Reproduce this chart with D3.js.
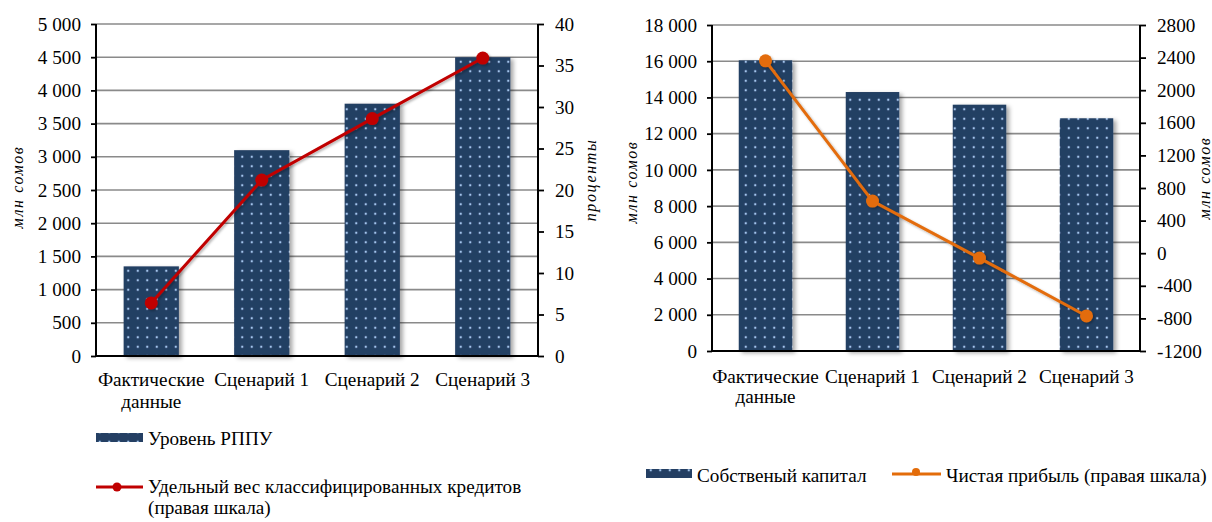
<!DOCTYPE html>
<html><head><meta charset="utf-8">
<script src="https://cdn.jsdelivr.net/npm/d3@7"></script>
<style>
html,body{margin:0;padding:0;background:#fff;}
svg text{font-family:"Liberation Serif","Times New Roman",serif;fill:#000;}
</style></head>
<body>
<svg id="c" width="1212" height="522"></svg>
<script>
// ---- data ----
const categories = ["Фактические данные", "Сценарий 1", "Сценарий 2", "Сценарий 3"];
const rppuLevel = [1350, 3100, 3800, 4500];              // млн сомов (left chart, bars)
const classifiedShare = [6.4, 21.2, 28.6, 35.9];         // % (left chart, line)
const equityCapital = [16050, 14300, 13600, 12850];      // млн сомов (right chart, bars)
const netProfit = [2360, 640, -60, -770];                // млн сомов (right chart, line)
const leftTicksL = [0, 500, 1000, 1500, 2000, 2500, 3000, 3500, 4000, 4500, 5000];
const leftTicksR = [0, 5, 10, 15, 20, 25, 30, 35, 40];
const rightTicksL = [0, 2000, 4000, 6000, 8000, 10000, 12000, 14000, 16000, 18000];
const rightTicksR = [-1200, -800, -400, 0, 400, 800, 1200, 1600, 2000, 2400, 2800];
const leftLegend = ["Уровень РППУ", "Удельный вес классифицированных кредитов", "(правая шкала)"];
const rightLegend = ["Собственый капитал", "Чистая прибыль (правая шкала)"];

const FS = 19.2;
const svg = d3.select("#c");
const defs = svg.append("defs");
const pat = defs.append("pattern").attr("id","dots").attr("patternUnits","userSpaceOnUse")
  .attr("width",9.5).attr("height",9.5);
pat.append("rect").attr("width",9.5).attr("height",9.5).attr("fill","#243f63");
pat.append("circle").attr("cx",4.75).attr("cy",4.75).attr("r",1.2).attr("fill","#a4c6ee");
const sh = defs.append("filter").attr("id","shadow").attr("x","-20%").attr("y","-20%").attr("width","150%").attr("height","150%");
sh.append("feDropShadow").attr("dx",3).attr("dy",2).attr("stdDeviation",2).attr("flood-color","#000").attr("flood-opacity",0.35);
const sh2 = defs.append("filter").attr("id","lshadow").attr("x","-20%").attr("y","-20%").attr("width","150%").attr("height","150%");
sh2.append("feDropShadow").attr("dx",1.5).attr("dy",1.5).attr("stdDeviation",1.2).attr("flood-color","#000").attr("flood-opacity",0.3);

const thinSp = d => d3.format(",")(d).replace(/,/g, " ");

function chart(o) {
  const g = svg.append("g");
  const x = d3.scaleBand().domain(categories).range([o.x0, o.x1]).paddingInner(0.5).paddingOuter(0.25);
  const yL = d3.scaleLinear().domain(o.domL).range([o.y0, o.y1]);
  const yR = d3.scaleLinear().domain(o.domR).range([o.y0, o.y1]);

  // gridlines
  g.append("g").selectAll("line").data(o.ticksL.filter(d => d !== o.domL[0])).join("line")
    .attr("x1", o.x0).attr("x2", o.x1).attr("y1", d => yL(d)).attr("y2", d => yL(d))
    .attr("stroke", "#8a8a8a").attr("stroke-width", 1.6);

  // bars
  g.append("g").selectAll("rect").data(o.bars).join("rect")
    .attr("x", (d, i) => x(categories[i])).attr("width", x.bandwidth())
    .attr("y", d => yL(d)).attr("height", d => yL(o.domL[0]) - yL(d))
    .attr("fill", "url(#dots)").attr("filter", "url(#shadow)");

  // axes
  const axL = g.append("g").attr("transform", `translate(${o.x0},0)`)
    .call(d3.axisLeft(yL).tickValues(o.ticksL).tickSize(5).tickPadding(10).tickFormat(o.fmtL));
  const axR = g.append("g").attr("transform", `translate(${o.x1},0)`)
    .call(d3.axisRight(yR).tickValues(o.ticksR).tickSize(6).tickPadding(11).tickFormat(o.fmtR));
  [axL, axR].forEach(a => {
    a.select(".domain").remove();
    a.selectAll(".tick line").attr("stroke", "#000").attr("stroke-width", 1.8);
    a.selectAll(".tick text").attr("font-size", FS).attr("font-family", "Liberation Serif");
  });
  g.append("line").attr("x1", o.x0).attr("x2", o.x0).attr("y1", o.y0 + 1).attr("y2", o.y1).attr("stroke", "#000").attr("stroke-width", 2);
  g.append("line").attr("x1", o.x1).attr("x2", o.x1).attr("y1", o.y0 + 1).attr("y2", o.y1).attr("stroke", "#000").attr("stroke-width", 2);
  g.append("line").attr("x1", o.x0).attr("x2", o.x1).attr("y1", o.y0).attr("y2", o.y0).attr("stroke", "#000").attr("stroke-width", 2);

  // category labels
  const cl = g.append("g").selectAll("text").data(categories).join("text")
    .attr("x", d => x(d) + x.bandwidth() / 2).attr("y", o.y0 + o.catDy)
    .attr("text-anchor", "middle").attr("font-size", FS);
  cl.each(function(d) {
    const t = d3.select(this);
    const parts = d.startsWith("Фактические") ? d.split(" ") : [d];
    parts.forEach((p, i) => t.append("tspan").attr("x", x(d) + x.bandwidth() / 2).attr("dy", i ? o.catLine : 0).text(p));
  });

  // line
  const line = d3.line().x((d, i) => x(categories[i]) + x.bandwidth() / 2).y(d => yR(d));
  const lg = g.append("g").attr("filter", "url(#lshadow)");
  lg.append("path").datum(o.line).attr("d", line).attr("fill", "none").attr("stroke", o.color).attr("stroke-width", 3);
  lg.selectAll("circle").data(o.line).join("circle")
    .attr("cx", (d, i) => x(categories[i]) + x.bandwidth() / 2).attr("cy", d => yR(d)).attr("r", 6.5).attr("fill", o.color);

  // axis titles
  g.append("text").attr("transform", `translate(${o.tL[0]},${o.tL[1]}) rotate(-90)`)
    .attr("text-anchor", "middle").attr("font-size", 16).attr("font-style", "italic").attr("letter-spacing", 1.6).text(o.titleL);
  g.append("text").attr("transform", `translate(${o.tR[0]},${o.tR[1]}) rotate(-90)`)
    .attr("text-anchor", "middle").attr("font-size", 16).attr("font-style", "italic").attr("letter-spacing", 1.6).text(o.titleR);
}

chart({x0: 96, x1: 538, y0: 356, y1: 24, domL: [0, 5000], domR: [0, 40],
  ticksL: leftTicksL, ticksR: leftTicksR, fmtL: thinSp, fmtR: d3.format("d"),
  bars: rppuLevel, line: classifiedShare, color: "#c00000",
  catDy: 30, catLine: 22, titleL: "млн сомов", titleR: "проценты", tL: [23, 187], tR: [596, 180]});

chart({x0: 712, x1: 1140, y0: 351, y1: 25, domL: [0, 18000], domR: [-1200, 2800],
  ticksL: rightTicksL, ticksR: rightTicksR, fmtL: thinSp, fmtR: d => String(d).replace("−", "-"),
  bars: equityCapital, line: netProfit, color: "#e36c0a",
  catDy: 32, catLine: 20, titleL: "млн сомов", titleR: "млн сомов", tL: [637, 182], tR: [1210, 178]});

// legends
const L = svg.append("g");
L.append("rect").attr("x", 96).attr("y", 433).attr("width", 47).attr("height", 9).attr("fill", "url(#dots)");
L.append("text").attr("x", 148).attr("y", 445).attr("font-size", FS).text(leftLegend[0]);
L.append("line").attr("x1", 96).attr("x2", 143).attr("y1", 487).attr("y2", 487).attr("stroke", "#c00000").attr("stroke-width", 3);
L.append("circle").attr("cx", 117).attr("cy", 487).attr("r", 4.5).attr("fill", "#c00000");
L.append("text").attr("x", 148).attr("y", 493).attr("font-size", FS).text(leftLegend[1]);
L.append("text").attr("x", 148).attr("y", 514).attr("font-size", FS).text(leftLegend[2]);

L.append("rect").attr("x", 646).attr("y", 469).attr("width", 46).attr("height", 9).attr("fill", "url(#dots)");
L.append("text").attr("x", 697).attr("y", 482).attr("font-size", FS).text(rightLegend[0]);
L.append("line").attr("x1", 892).attr("x2", 941).attr("y1", 474).attr("y2", 474).attr("stroke", "#e36c0a").attr("stroke-width", 3);
L.append("circle").attr("cx", 916).attr("cy", 472).attr("r", 4).attr("fill", "#e36c0a");
L.append("text").attr("x", 946).attr("y", 482).attr("font-size", FS).text(rightLegend[1]);
</script>
</body></html>
